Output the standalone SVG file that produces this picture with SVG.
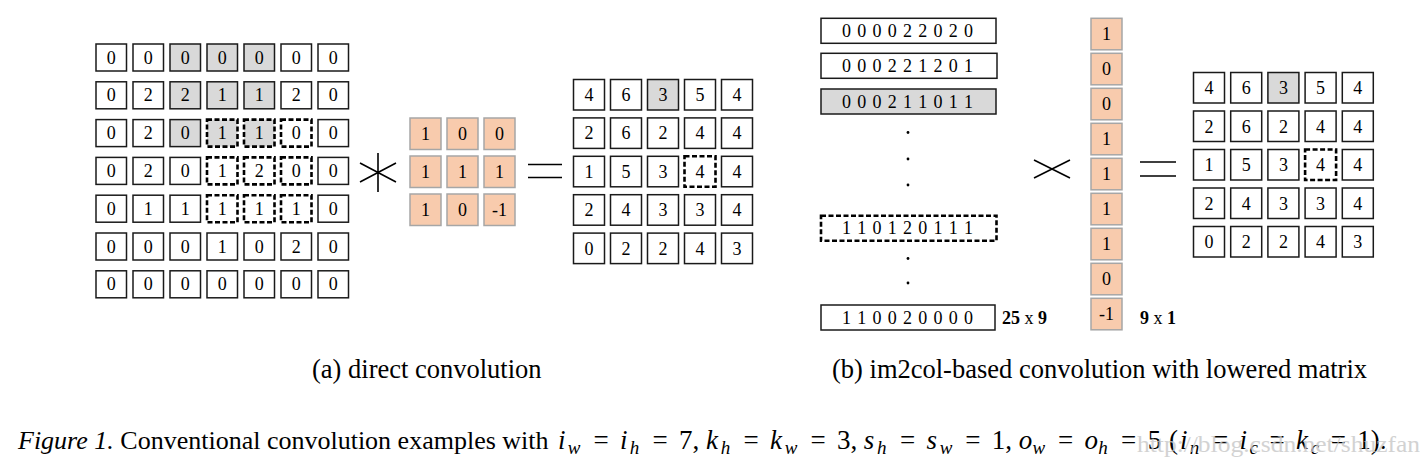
<svg xmlns="http://www.w3.org/2000/svg" width="1424" height="469" viewBox="0 0 1424 469">
<style>
rect.c{fill:#fff;stroke:#1a1a1a;stroke-width:1.5}
rect.g{fill:#d9d9d9;stroke:#1a1a1a;stroke-width:1.5}
rect.d{fill:#fff;stroke:#000;stroke-width:2.6;stroke-dasharray:5 2.5}
rect.dg{fill:#d9d9d9;stroke:#000;stroke-width:2.6;stroke-dasharray:5 2.5}
rect.k{fill:#f8cbad;stroke:#a6a6a6;stroke-width:1.5}
text{font-family:"Liberation Serif","Times New Roman",serif;fill:#000}
.n text,text.n{font-size:18px;text-anchor:middle}
.r{font-size:18px}
.lab{font-size:18px;font-weight:bold}
.cap{font-size:26px}
.mth{font-size:27px}
.sc{font-size:26.5px}
.v{font-style:italic}
.s{font-size:19px;font-style:italic}
.op{stroke:#000;stroke-width:1.6;fill:none}
.wm{font-size:24px;fill:#c8c8c8;opacity:0.8}
</style>
<rect width="1424" height="469" fill="#fff"/>

<!-- input 7x7 -->
<g id="input" class="n">
<rect class="c" x="96" y="44" width="30.5" height="27"/><text x="111.25" y="63.6">0</text>
<rect class="c" x="133" y="44" width="30.5" height="27"/><text x="148.25" y="63.6">0</text>
<rect class="g" x="170" y="44" width="30.5" height="27"/><text x="185.25" y="63.6">0</text>
<rect class="g" x="207" y="44" width="30.5" height="27"/><text x="222.25" y="63.6">0</text>
<rect class="g" x="244" y="44" width="30.5" height="27"/><text x="259.25" y="63.6">0</text>
<rect class="c" x="281" y="44" width="30.5" height="27"/><text x="296.25" y="63.6">0</text>
<rect class="c" x="318" y="44" width="30.5" height="27"/><text x="333.25" y="63.6">0</text>

<rect class="c" x="96" y="81.8" width="30.5" height="27"/><text x="111.25" y="101.4">0</text>
<rect class="c" x="133" y="81.8" width="30.5" height="27"/><text x="148.25" y="101.4">2</text>
<rect class="g" x="170" y="81.8" width="30.5" height="27"/><text x="185.25" y="101.4">2</text>
<rect class="g" x="207" y="81.8" width="30.5" height="27"/><text x="222.25" y="101.4">1</text>
<rect class="g" x="244" y="81.8" width="30.5" height="27"/><text x="259.25" y="101.4">1</text>
<rect class="c" x="281" y="81.8" width="30.5" height="27"/><text x="296.25" y="101.4">2</text>
<rect class="c" x="318" y="81.8" width="30.5" height="27"/><text x="333.25" y="101.4">0</text>

<rect class="c" x="96" y="119.6" width="30.5" height="27"/><text x="111.25" y="139.2">0</text>
<rect class="c" x="133" y="119.6" width="30.5" height="27"/><text x="148.25" y="139.2">2</text>
<rect class="g" x="170" y="119.6" width="30.5" height="27"/><text x="185.25" y="139.2">0</text>
<rect class="dg" x="207" y="119.6" width="30.5" height="27"/><text x="222.25" y="139.2">1</text>
<rect class="dg" x="244" y="119.6" width="30.5" height="27"/><text x="259.25" y="139.2">1</text>
<rect class="d" x="281" y="119.6" width="30.5" height="27"/><text x="296.25" y="139.2">0</text>
<rect class="c" x="318" y="119.6" width="30.5" height="27"/><text x="333.25" y="139.2">0</text>

<rect class="c" x="96" y="157.4" width="30.5" height="27"/><text x="111.25" y="177">0</text>
<rect class="c" x="133" y="157.4" width="30.5" height="27"/><text x="148.25" y="177">2</text>
<rect class="c" x="170" y="157.4" width="30.5" height="27"/><text x="185.25" y="177">0</text>
<rect class="d" x="207" y="157.4" width="30.5" height="27"/><text x="222.25" y="177">1</text>
<rect class="d" x="244" y="157.4" width="30.5" height="27"/><text x="259.25" y="177">2</text>
<rect class="d" x="281" y="157.4" width="30.5" height="27"/><text x="296.25" y="177">0</text>
<rect class="c" x="318" y="157.4" width="30.5" height="27"/><text x="333.25" y="177">0</text>

<rect class="c" x="96" y="195.2" width="30.5" height="27"/><text x="111.25" y="214.8">0</text>
<rect class="c" x="133" y="195.2" width="30.5" height="27"/><text x="148.25" y="214.8">1</text>
<rect class="c" x="170" y="195.2" width="30.5" height="27"/><text x="185.25" y="214.8">1</text>
<rect class="d" x="207" y="195.2" width="30.5" height="27"/><text x="222.25" y="214.8">1</text>
<rect class="d" x="244" y="195.2" width="30.5" height="27"/><text x="259.25" y="214.8">1</text>
<rect class="d" x="281" y="195.2" width="30.5" height="27"/><text x="296.25" y="214.8">1</text>
<rect class="c" x="318" y="195.2" width="30.5" height="27"/><text x="333.25" y="214.8">0</text>

<rect class="c" x="96" y="233" width="30.5" height="27"/><text x="111.25" y="252.6">0</text>
<rect class="c" x="133" y="233" width="30.5" height="27"/><text x="148.25" y="252.6">0</text>
<rect class="c" x="170" y="233" width="30.5" height="27"/><text x="185.25" y="252.6">0</text>
<rect class="c" x="207" y="233" width="30.5" height="27"/><text x="222.25" y="252.6">1</text>
<rect class="c" x="244" y="233" width="30.5" height="27"/><text x="259.25" y="252.6">0</text>
<rect class="c" x="281" y="233" width="30.5" height="27"/><text x="296.25" y="252.6">2</text>
<rect class="c" x="318" y="233" width="30.5" height="27"/><text x="333.25" y="252.6">0</text>

<rect class="c" x="96" y="270.8" width="30.5" height="27"/><text x="111.25" y="290.4">0</text>
<rect class="c" x="133" y="270.8" width="30.5" height="27"/><text x="148.25" y="290.4">0</text>
<rect class="c" x="170" y="270.8" width="30.5" height="27"/><text x="185.25" y="290.4">0</text>
<rect class="c" x="207" y="270.8" width="30.5" height="27"/><text x="222.25" y="290.4">0</text>
<rect class="c" x="244" y="270.8" width="30.5" height="27"/><text x="259.25" y="290.4">0</text>
<rect class="c" x="281" y="270.8" width="30.5" height="27"/><text x="296.25" y="290.4">0</text>
<rect class="c" x="318" y="270.8" width="30.5" height="27"/><text x="333.25" y="290.4">0</text>
</g>

<!-- kernel 3x3 -->
<g id="kernel" class="n">
<rect class="k" x="410" y="118" width="31" height="31.5"/><text x="425.5" y="140">1</text>
<rect class="k" x="447" y="118" width="31" height="31.5"/><text x="462.5" y="140">0</text>
<rect class="k" x="484" y="118" width="31" height="31.5"/><text x="499.5" y="140">0</text>
<rect class="k" x="410" y="156" width="31" height="31.5"/><text x="425.5" y="178">1</text>
<rect class="k" x="447" y="156" width="31" height="31.5"/><text x="462.5" y="178">1</text>
<rect class="k" x="484" y="156" width="31" height="31.5"/><text x="499.5" y="178">1</text>
<rect class="k" x="410" y="194" width="31" height="31.5"/><text x="425.5" y="216">1</text>
<rect class="k" x="447" y="194" width="31" height="31.5"/><text x="462.5" y="216">0</text>
<rect class="k" x="484" y="194" width="31" height="31.5"/><text x="499.5" y="216">-1</text>
</g>

<!-- output (a) 5x5 -->
<g id="output-a" class="n">
<rect class="c" x="573.5" y="79.5" width="31" height="30.5"/><text x="589" y="101">4</text>
<rect class="c" x="610.5" y="79.5" width="31" height="30.5"/><text x="626" y="101">6</text>
<rect class="g" x="647.5" y="79.5" width="31" height="30.5"/><text x="663" y="101">3</text>
<rect class="c" x="684.5" y="79.5" width="31" height="30.5"/><text x="700" y="101">5</text>
<rect class="c" x="721.5" y="79.5" width="31" height="30.5"/><text x="737" y="101">4</text>
<rect class="c" x="573.5" y="117.9" width="31" height="30.5"/><text x="589" y="139.4">2</text>
<rect class="c" x="610.5" y="117.9" width="31" height="30.5"/><text x="626" y="139.4">6</text>
<rect class="c" x="647.5" y="117.9" width="31" height="30.5"/><text x="663" y="139.4">2</text>
<rect class="c" x="684.5" y="117.9" width="31" height="30.5"/><text x="700" y="139.4">4</text>
<rect class="c" x="721.5" y="117.9" width="31" height="30.5"/><text x="737" y="139.4">4</text>
<rect class="c" x="573.5" y="156.3" width="31" height="30.5"/><text x="589" y="177.8">1</text>
<rect class="c" x="610.5" y="156.3" width="31" height="30.5"/><text x="626" y="177.8">5</text>
<rect class="c" x="647.5" y="156.3" width="31" height="30.5"/><text x="663" y="177.8">3</text>
<rect class="d" x="684.5" y="156.3" width="31" height="30.5"/><text x="700" y="177.8">4</text>
<rect class="c" x="721.5" y="156.3" width="31" height="30.5"/><text x="737" y="177.8">4</text>
<rect class="c" x="573.5" y="194.7" width="31" height="30.5"/><text x="589" y="216.2">2</text>
<rect class="c" x="610.5" y="194.7" width="31" height="30.5"/><text x="626" y="216.2">4</text>
<rect class="c" x="647.5" y="194.7" width="31" height="30.5"/><text x="663" y="216.2">3</text>
<rect class="c" x="684.5" y="194.7" width="31" height="30.5"/><text x="700" y="216.2">3</text>
<rect class="c" x="721.5" y="194.7" width="31" height="30.5"/><text x="737" y="216.2">4</text>
<rect class="c" x="573.5" y="233.1" width="31" height="30.5"/><text x="589" y="254.6">0</text>
<rect class="c" x="610.5" y="233.1" width="31" height="30.5"/><text x="626" y="254.6">2</text>
<rect class="c" x="647.5" y="233.1" width="31" height="30.5"/><text x="663" y="254.6">2</text>
<rect class="c" x="684.5" y="233.1" width="31" height="30.5"/><text x="700" y="254.6">4</text>
<rect class="c" x="721.5" y="233.1" width="31" height="30.5"/><text x="737" y="254.6">3</text>
</g>

<!-- lowered matrix rows -->
<g id="lowered-matrix">
<rect class="c" x="821" y="18.3" width="175" height="25"/><text class="r" x="842" y="37" textLength="131" lengthAdjust="spacing">0 0 0 0 2 2 0 2 0</text>
<rect class="c" x="821" y="53.3" width="176" height="25"/><text class="r" x="842" y="72" textLength="131" lengthAdjust="spacing">0 0 0 2 2 1 2 0 1</text>
<rect class="g" x="821" y="89" width="175" height="25"/><text class="r" x="842" y="107.7" textLength="131" lengthAdjust="spacing">0 0 0 2 1 1 0 1 1</text>
<circle cx="908" cy="132.5" r="1.4"/>
<circle cx="908" cy="159" r="1.4"/>
<circle cx="908" cy="185" r="1.4"/>
<rect class="d" x="821" y="215.7" width="175.5" height="25"/><text class="r" x="842" y="234.4" textLength="131" lengthAdjust="spacing">1 1 0 1 2 0 1 1 1</text>
<circle cx="908" cy="258.5" r="1.4"/>
<circle cx="908" cy="283" r="1.4"/>
<rect class="c" x="821" y="305" width="174" height="25"/><text class="r" x="842" y="323.7" textLength="131" lengthAdjust="spacing">1 1 0 0 2 0 0 0 0</text>
<text class="lab" x="1002" y="323.5">25 <tspan font-weight="normal">x</tspan> 9</text>
</g>

<!-- kernel vector 9x1 -->
<g id="kernel-vector" class="n">
<rect class="k" x="1091" y="18.3" width="31" height="31.5"/><text x="1106.5" y="40.3">1</text>
<rect class="k" x="1091" y="53.3" width="31" height="31.5"/><text x="1106.5" y="75.3">0</text>
<rect class="k" x="1091" y="88.3" width="31" height="31.5"/><text x="1106.5" y="110.3">0</text>
<rect class="k" x="1091" y="123.3" width="31" height="31.5"/><text x="1106.5" y="145.3">1</text>
<rect class="k" x="1091" y="158.3" width="31" height="31.5"/><text x="1106.5" y="180.3">1</text>
<rect class="k" x="1091" y="193.3" width="31" height="31.5"/><text x="1106.5" y="215.3">1</text>
<rect class="k" x="1091" y="228.3" width="31" height="31.5"/><text x="1106.5" y="250.3">1</text>
<rect class="k" x="1091" y="263.3" width="31" height="31.5"/><text x="1106.5" y="285.3">0</text>
<rect class="k" x="1091" y="298.3" width="31" height="31.5"/><text x="1106.5" y="320.3">-1</text>
</g>
<text class="lab" x="1140" y="323.5">9 <tspan font-weight="normal">x</tspan> 1</text>

<!-- output (b) 5x5 -->
<g id="output-b" class="n">
<rect class="c" x="1193.5" y="72.5" width="31" height="30.5"/><text x="1209" y="94">4</text>
<rect class="c" x="1230.7" y="72.5" width="31" height="30.5"/><text x="1246.2" y="94">6</text>
<rect class="g" x="1267.9" y="72.5" width="31" height="30.5"/><text x="1283.4" y="94">3</text>
<rect class="c" x="1305.1" y="72.5" width="31" height="30.5"/><text x="1320.6" y="94">5</text>
<rect class="c" x="1342.3" y="72.5" width="31" height="30.5"/><text x="1357.8" y="94">4</text>
<rect class="c" x="1193.5" y="111" width="31" height="30.5"/><text x="1209" y="132.5">2</text>
<rect class="c" x="1230.7" y="111" width="31" height="30.5"/><text x="1246.2" y="132.5">6</text>
<rect class="c" x="1267.9" y="111" width="31" height="30.5"/><text x="1283.4" y="132.5">2</text>
<rect class="c" x="1305.1" y="111" width="31" height="30.5"/><text x="1320.6" y="132.5">4</text>
<rect class="c" x="1342.3" y="111" width="31" height="30.5"/><text x="1357.8" y="132.5">4</text>
<rect class="c" x="1193.5" y="149.5" width="31" height="30.5"/><text x="1209" y="171">1</text>
<rect class="c" x="1230.7" y="149.5" width="31" height="30.5"/><text x="1246.2" y="171">5</text>
<rect class="c" x="1267.9" y="149.5" width="31" height="30.5"/><text x="1283.4" y="171">3</text>
<rect class="d" x="1305.1" y="149.5" width="31" height="30.5"/><text x="1320.6" y="171">4</text>
<rect class="c" x="1342.3" y="149.5" width="31" height="30.5"/><text x="1357.8" y="171">4</text>
<rect class="c" x="1193.5" y="188" width="31" height="30.5"/><text x="1209" y="209.5">2</text>
<rect class="c" x="1230.7" y="188" width="31" height="30.5"/><text x="1246.2" y="209.5">4</text>
<rect class="c" x="1267.9" y="188" width="31" height="30.5"/><text x="1283.4" y="209.5">3</text>
<rect class="c" x="1305.1" y="188" width="31" height="30.5"/><text x="1320.6" y="209.5">3</text>
<rect class="c" x="1342.3" y="188" width="31" height="30.5"/><text x="1357.8" y="209.5">4</text>
<rect class="c" x="1193.5" y="226.5" width="31" height="30.5"/><text x="1209" y="248">0</text>
<rect class="c" x="1230.7" y="226.5" width="31" height="30.5"/><text x="1246.2" y="248">2</text>
<rect class="c" x="1267.9" y="226.5" width="31" height="30.5"/><text x="1283.4" y="248">2</text>
<rect class="c" x="1305.1" y="226.5" width="31" height="30.5"/><text x="1320.6" y="248">4</text>
<rect class="c" x="1342.3" y="226.5" width="31" height="30.5"/><text x="1357.8" y="248">3</text>
</g>

<!-- operators -->
<g id="connectors">
<path class="op" d="M378 153V192M360 163L396 182M360 182L396 163"/>
<path class="op" d="M528 164.5H562M528 177.5H562"/>
<path class="op" d="M1034 160L1070 178M1034 178L1070 160"/>
<path class="op" d="M1140 162H1176M1140 176H1176"/>
</g>

<!-- captions -->
<text class="sc" x="312" y="378">(a) direct convolution</text>
<text class="sc" x="832" y="378">(b) im2col-based convolution with lowered matrix</text>
<text class="cap" x="18" y="449"><tspan class="v">Figure 1.</tspan> Conventional convolution examples with</text>
<text class="mth" y="449"><tspan class="v" x="558" y="449">i</tspan><tspan class="s" x="567.8" y="454">w</tspan><tspan x="593.4" y="449">=</tspan><tspan class="v" x="619.9" y="449">i</tspan><tspan class="s" x="629.7" y="454">h</tspan><tspan x="652.5" y="449">=</tspan><tspan x="679" y="449">7,</tspan><tspan class="v" x="705.9" y="449">k</tspan><tspan class="s" x="720.7" y="454">h</tspan><tspan x="743.5" y="449">=</tspan><tspan class="v" x="770" y="449">k</tspan><tspan class="s" x="784.8" y="454">w</tspan><tspan x="810.4" y="449">=</tspan><tspan x="836.9" y="449">3,</tspan><tspan class="v" x="863.8" y="449">s</tspan><tspan class="s" x="877.1" y="454">h</tspan><tspan x="899.9" y="449">=</tspan><tspan class="v" x="926.4" y="449">s</tspan><tspan class="s" x="939.7" y="454">w</tspan><tspan x="965.3" y="449">=</tspan><tspan x="991.8" y="449">1,</tspan><tspan class="v" x="1018.7" y="449">o</tspan><tspan class="s" x="1032.5" y="454">w</tspan><tspan x="1058" y="449">=</tspan><tspan class="v" x="1084.6" y="449">o</tspan><tspan class="s" x="1098.3" y="454">h</tspan><tspan x="1121.1" y="449">=</tspan><tspan x="1147.7" y="449">5</tspan><tspan x="1169" y="449">(</tspan><tspan class="v" x="1180" y="449">i</tspan><tspan class="s" x="1189.8" y="454">n</tspan><tspan x="1213.1" y="449">=</tspan><tspan class="v" x="1239.6" y="449">i</tspan><tspan class="s" x="1249.4" y="454">c</tspan><tspan x="1269.4" y="449">=</tspan><tspan class="v" x="1295.9" y="449">k</tspan><tspan class="s" x="1310.7" y="454">c</tspan><tspan x="1330.7" y="449">=</tspan><tspan x="1357.2" y="449">1).</tspan></text>
<text class="wm" x="1137" y="452" textLength="283" lengthAdjust="spacingAndGlyphs">http://blog.csdn.net/shuzfan</text>
</svg>
